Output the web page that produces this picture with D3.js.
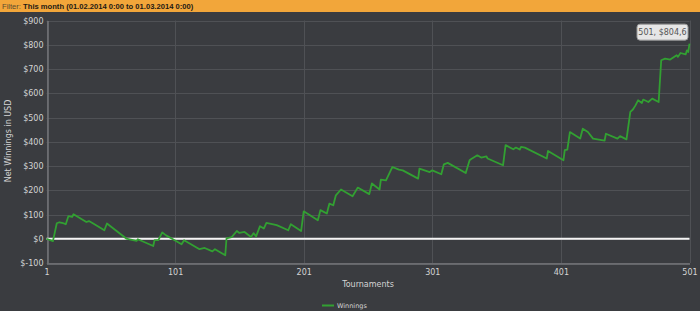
<!DOCTYPE html>
<html lang="en">
	<head>
		<meta charset="utf-8">
		<title>Net winnings</title>
		<script type="text/javascript" src="https://cdn.jsdelivr.net/npm/d3@7/dist/d3.min.js"></script>
		<style type="text/css">
			body { margin: 0; background: #3a3c40; }
			svg { display: block; }
		</style>
	</head>
	<body>
		<script type="text/javascript">

			//Width and height
			var w = 700;
			var h = 311;

			//Data: vertices of the winnings curve (tournament number, net USD)
			var tournaments = [1, 6, 9, 11, 14, 16, 18, 21, 22, 32, 34, 37, 46, 48, 63, 71, 72, 84, 85, 88,
				91, 94, 99, 106, 108, 120, 124, 130, 132, 140, 141, 145, 149, 151, 155, 160, 162, 164, 167, 170,
				172, 180, 189, 191, 199, 201, 212, 214, 219, 221, 224, 226, 230, 239, 243, 252, 254, 260, 261, 265,
				270, 275, 278, 290, 291, 299, 301, 308, 310, 313, 327, 330, 331, 336, 339, 343, 344, 356, 358, 364,
				366, 369, 370, 373, 390, 391, 403, 404, 406, 408, 416, 418, 422, 426, 435, 436, 445, 447, 452, 455,
				457, 459, 461, 464, 465, 469, 472, 477, 479, 482, 486, 491, 492, 494, 498, 499, 500, 501];
			var winnings = [0, -10, 64, 68, 64, 60, 93, 90, 101, 69, 73, 64, 35, 63, 1, -9, -2, -30, -6, -6,
				26, 14, -1, -23, -6, -43, -38, -52, -43, -68, 2, 7, 32, 24, 28, 7, 23, 10, 52, 42,
				65, 56, 35, 60, 32, 113, 76, 118, 104, 145, 138, 179, 203, 175, 211, 184, 228, 203, 244, 241,
				296, 285, 282, 248, 289, 275, 282, 266, 307, 313, 271, 324, 328, 344, 335, 340, 331, 303, 386, 369,
				376, 368, 379, 376, 331, 362, 324, 365, 368, 440, 413, 454, 440, 413, 405, 433, 413, 423, 410, 523,
				533, 550, 571, 560, 574, 564, 578, 564, 736, 743, 739, 757, 750, 766, 760, 777, 770, 804.6];

			var xTicks = [1, 101, 201, 301, 401, 501];
			var yTicks = [-100, 0, 100, 200, 300, 400, 500, 600, 700, 800, 900];

			var filterLabel = "Filter: ";
			var filterText = "This month (01.02.2014 0:00 to 01.03.2014 0:00)";
			var tooltipText = "501, $804,6";

			var dataset = tournaments.map(function(t, i) {
				return { t: t, v: winnings[i] };
			});

			//Scales
			var xScale = d3.scaleLinear()
						   .domain([1, 501])
						   .range([46.5, 689.5]);

			var yScale = d3.scaleLinear()
						   .domain([-100, 900])
						   .range([263, 20.5]);

			var svg = d3.select("body")
						.append("svg")
						.attr("width", w)
						.attr("height", h)
						.attr("font-family", "DejaVu Sans, sans-serif");

			svg.append("rect")
			   .attr("width", w)
			   .attr("height", h)
			   .attr("fill", "#3a3c40");

			//Filter bar
			svg.append("rect")
			   .attr("width", w)
			   .attr("height", 12)
			   .attr("fill", "#f2a63a");

			var header = svg.append("text")
			   .attr("x", 2)
			   .attr("y", 9)
			   .attr("font-size", "7.6px")
			   .attr("font-family", "Liberation Sans, Arial, sans-serif");
			header.append("tspan")
			   .attr("fill", "#5a4a30")
			   .text(filterLabel);
			header.append("tspan")
			   .attr("fill", "#1e1a14")
			   .attr("font-weight", "bold")
			   .text(filterText);

			//Grid
			svg.append("g")
			   .selectAll("line")
			   .data(yTicks)
			   .enter()
			   .append("line")
			   .attr("x1", xScale(1))
			   .attr("x2", xScale(501))
			   .attr("y1", function(d) { return Math.round(yScale(d)) + 0.5; })
			   .attr("y2", function(d) { return Math.round(yScale(d)) + 0.5; })
			   .attr("stroke", "#4f5155");

			svg.append("g")
			   .selectAll("line")
			   .data(xTicks)
			   .enter()
			   .append("line")
			   .attr("x1", function(d) { return Math.round(xScale(d)) + 0.5; })
			   .attr("x2", function(d) { return Math.round(xScale(d)) + 0.5; })
			   .attr("y1", yScale(900))
			   .attr("y2", yScale(-100))
			   .attr("stroke", "#4f5155");

			//Axes
			var xAxis = d3.axisBottom(xScale)
						  .tickValues(xTicks)
						  .tickSize(0)
						  .tickPadding(6);

			var yAxis = d3.axisLeft(yScale)
						  .tickValues(yTicks)
						  .tickSize(0)
						  .tickPadding(4)
						  .tickFormat(function(d) { return "$" + d; });

			var gx = svg.append("g")
			   .attr("transform", "translate(0," + (Math.round(yScale(-100)) + 0.5) + ")")
			   .call(xAxis);

			var gy = svg.append("g")
			   .attr("transform", "translate(" + (Math.round(xScale(1)) + 0.5) + ",0)")
			   .call(yAxis);

			[gx, gy].forEach(function(g) {
				g.select(".domain").attr("stroke", "#74767a").attr("stroke-width", 1.5);
				g.selectAll("text")
				 .attr("fill", "#d4d4d4")
				 .attr("font-size", "8px")
				 .attr("font-family", "DejaVu Sans, sans-serif");
			});

			//Zero line
			svg.append("line")
			   .attr("x1", xScale(1))
			   .attr("x2", xScale(501))
			   .attr("y1", yScale(0))
			   .attr("y2", yScale(0))
			   .attr("stroke", "#f4f4f4")
			   .attr("stroke-width", 2);

			//Winnings line
			var line = d3.line()
						 .x(function(d) { return xScale(d.t); })
						 .y(function(d) { return yScale(d.v); });

			svg.append("path")
			   .datum(dataset)
			   .attr("d", line)
			   .attr("fill", "none")
			   .attr("stroke", "#32a032")
			   .attr("stroke-width", 1.8)
			   .attr("stroke-linejoin", "round");

			//Axis titles
			svg.append("text")
			   .attr("transform", "translate(11,141) rotate(-90)")
			   .attr("text-anchor", "middle")
			   .attr("font-size", "8px")
			   .attr("fill", "#d4d4d4")
			   .text("Net Winnings in USD");

			svg.append("text")
			   .attr("x", 368)
			   .attr("y", 287)
			   .attr("text-anchor", "middle")
			   .attr("font-size", "8px")
			   .attr("fill", "#d4d4d4")
			   .text("Tournaments");

			//Legend
			svg.append("line")
			   .attr("x1", 322)
			   .attr("x2", 334)
			   .attr("y1", 305.5)
			   .attr("y2", 305.5)
			   .attr("stroke", "#32a032")
			   .attr("stroke-width", 2);

			svg.append("text")
			   .attr("x", 337)
			   .attr("y", 308)
			   .attr("font-size", "6.5px")
			   .attr("fill", "#d4d4d4")
			   .text("Winnings");

			//Tooltip
			var last = dataset[dataset.length - 1];
			var tip = svg.append("g")
			   .attr("transform", "translate(" + (xScale(last.t) - 53) + "," + (yScale(last.v) - 20) + ")");
			tip.append("rect")
			   .attr("x", 0.5)
			   .attr("y", 0.5)
			   .attr("width", 51)
			   .attr("height", 16)
			   .attr("rx", 3)
			   .attr("fill", "#e6e6e6")
			   .attr("stroke", "#9a9a9a");
			tip.append("text")
			   .attr("x", 26)
			   .attr("y", 11.5)
			   .attr("text-anchor", "middle")
			   .attr("font-size", "8px")
			   .attr("fill", "#555")
			   .text(tooltipText);

		</script>
	</body>
</html>
